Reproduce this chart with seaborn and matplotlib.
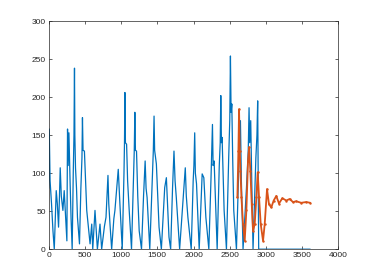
import matplotlib
matplotlib.use("Agg")
import matplotlib.pyplot as plt
import seaborn as sns

# valeurs (pics, épaules et creux)
blue_x = [0, 9, 20, 40, 60, 78, 95, 105, 120, 137, 150, 160, 175, 197, 215, 235, 252, 257, 261,
          270, 280, 290, 297, 310, 325, 340, 350, 357, 362, 371, 385, 398, 426, 445, 460, 467,
          475, 494, 510, 526, 572, 595, 609, 640, 673, 709, 732, 770, 792, 819, 830, 847, 870,
          900, 915, 940, 961, 984, 1016, 1040, 1047, 1053, 1060, 1076, 1090, 1112, 1144, 1170,
          1182, 1190, 1198, 1213, 1230, 1250, 1282, 1310, 1332, 1345, 1359, 1396, 1430, 1445,
          1455, 1463, 1487, 1505, 1524, 1556, 1602, 1625, 1661, 1684, 1710, 1730, 1745, 1762,
          1808, 1860, 1886, 1900, 1922, 1968, 1995, 2005, 2016, 2025, 2041, 2078, 2119, 2142,
          2170, 2211, 2240, 2261, 2270, 2284, 2326, 2355, 2368, 2376, 2385, 2394, 2422, 2454,
          2485, 2500, 2509, 2518, 2528, 2540, 2555, 2592, 2625, 2647, 2660, 2683, 2730, 2755,
          2766, 2775, 2789, 2805, 2821, 2860, 2875, 2885, 2892, 2899, 3610]
blue_y = [80, 158, 90, 60, 24, 0, 50, 77, 60, 29, 70, 107, 70, 51, 77, 40, 11, 100, 158,
          110, 153, 110, 86, 40, 0, 100, 150, 238, 150, 107, 80, 42, 7, 80, 120, 173,
          130, 129, 90, 51, 7, 33, 0, 51, 0, 33, 0, 30, 42, 97, 60, 33, 0,
          40, 51, 80, 105, 59, 0, 100, 140, 206, 140, 138, 90, 51, 0, 90,
          130, 180, 130, 129, 70, 24, 0, 70, 116, 80, 68, 0, 90, 130,
          175, 130, 112, 70, 29, 0, 81, 94, 16, 0, 80, 129, 90, 68,
          0, 70, 107, 70, 42, 0, 90, 110, 153, 100, 86, 0, 99, 94,
          42, 0, 90, 164, 110, 116, 0, 110, 140, 202, 140, 147, 51, 0,
          120, 170, 254, 180, 191, 120, 51, 0, 110, 169, 90, 0, 80, 130,
          186, 140, 169, 80, 0, 120, 150, 195, 100, 0, 0]

orange_x = [2605, 2619, 2628, 2638, 2647, 2661, 2683, 2706, 2729, 2752, 2766, 2784, 2803, 2821,
            2844, 2867, 2885, 2904, 2927, 2959, 2982, 3014, 3041, 3073, 3106, 3142, 3179, 3225,
            3280, 3326, 3372, 3417, 3486, 3555, 3610]
orange_y = [68, 129, 184, 129, 103, 68, 33, 11, 51, 116, 134, 103, 59, 24,
            33, 68, 101, 68, 33, 11, 33, 79, 59, 55, 64, 70, 60, 67,
            64, 66, 62, 63, 61, 62, 61]

x_ticks = list(range(0, 4001, 500))
y_ticks = list(range(0, 301, 50))

#%% figure

sns.set_style("white")
plt.rcParams['font.family'] = ['Liberation Sans', 'DejaVu Sans']

fig = plt.figure(figsize=(3.74, 2.8), dpi=100)
ax = fig.add_axes([0.13, 0.11, 0.775, 0.815])

sns.lineplot(x=blue_x, y=blue_y, sort=False, estimator=None, color="#0072BD", lw=0.9, ax=ax)
sns.lineplot(x=orange_x, y=orange_y, sort=False, estimator=None, color="#D95319", lw=1.3,
             marker=".", markersize=3.5, markeredgewidth=0, ax=ax)

ax.set_xlim(0, 4000)
ax.set_ylim(0, 300)
ax.set_xticks(x_ticks)
ax.set_yticks(y_ticks)
ax.tick_params(direction="in", length=2.5, width=0.5, labelsize=6, colors="#262626",
               top=True, right=True, bottom=True, left=True, pad=2)
for s in ax.spines.values():
    s.set_color("#262626")
    s.set_linewidth(0.5)

fig.savefig("out.png", dpi=100)
